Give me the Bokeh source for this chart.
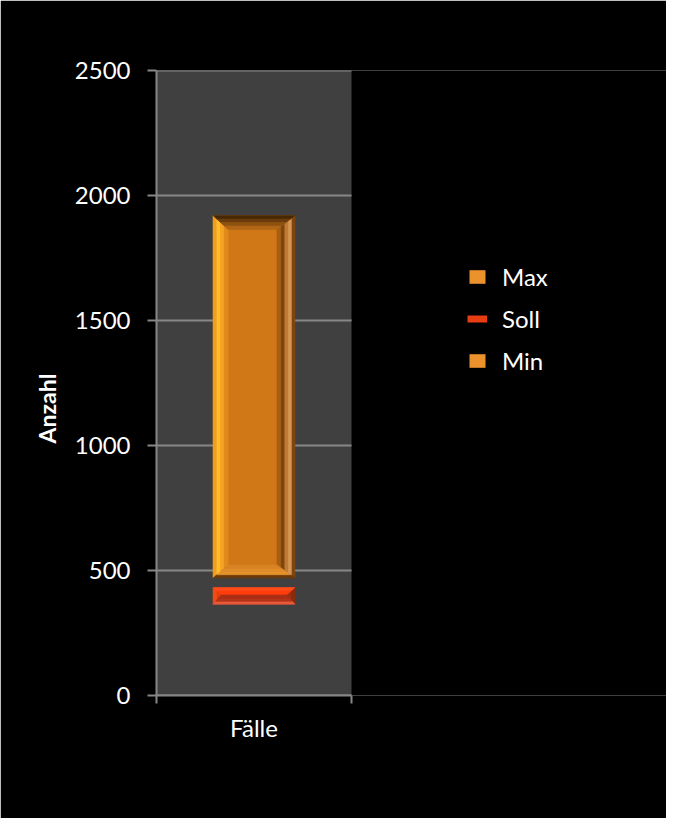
from bokeh.plotting import figure
from bokeh.models import (Range1d, FixedTicker, Legend, LegendItem, Title,
                          LinearAxis)
from bokeh.embed import file_html
from bokeh.resources import INLINE

# ---------------- data ----------------
categories = ["Fälle"]
series_names = ["Max", "Soll", "Min"]
max_values = [1920]
min_values = [470]
soll_low = [365]
soll_high = [432]
y_ticks = [0, 500, 1000, 1500, 2000, 2500]
y_axis_title = "Anzahl"

# ---------------- style ----------------
FONT = "Lato"
FS = "24px"
GRID = "#878787"
PLOT_BG = "#404040"
cat_pos = [0.5]          # centre of the single category on the 0..1 x scale
BAR_W = 0.42
AREA_W = 195             # pixel width of the grey plot area (x = 0..1)
FRAME_W, FRAME_H = 510, 625
PX_X = 1.0 / AREA_W
PX_Y = (y_ticks[-1] - y_ticks[0]) / FRAME_H

p = figure(width=666, height=818, output_backend="svg", toolbar_location=None,
           x_range=Range1d(0, FRAME_W / AREA_W),
           y_range=Range1d(y_ticks[0], y_ticks[-1]),
           min_border_left=156, min_border_right=0, min_border_top=70,
           min_border_bottom=123)
p.background_fill_color = "#000000"
p.border_fill_color = "#000000"
p.outline_line_color = None
p.xgrid.grid_line_color = None
p.ygrid.grid_line_color = None

# grey plot area and its horizontal gridlines
p.quad(left=[0], right=[1], bottom=[y_ticks[0]], top=[y_ticks[-1]],
       fill_color=PLOT_BG, line_color=None)
p.segment(x0=[0] * len(y_ticks), x1=[1] * len(y_ticks), y0=y_ticks, y1=y_ticks,
          line_color=GRID, line_width=2)

# y axis
p.yaxis.ticker = FixedTicker(ticks=y_ticks)
p.yaxis.minor_tick_line_color = None
p.yaxis.major_tick_out = 9
p.yaxis.major_tick_in = 0
p.yaxis.axis_line_color = GRID
p.yaxis.axis_line_width = 2
p.yaxis.major_tick_line_color = GRID
p.yaxis.major_tick_line_width = 2
p.yaxis.major_label_text_color = "#ffffff"
p.yaxis.major_label_text_font = FONT
p.yaxis.major_label_text_font_size = FS
p.yaxis.major_label_standoff = 17

# x axis line with ticks at the plot-area edges
xa = p.xaxis[0]
xa.bounds = (0, 1)
xa.ticker = FixedTicker(ticks=[0, 1])
xa.major_label_overrides = {0: "", 1: ""}
xa.major_label_text_font_size = "1px"
xa.major_label_standoff = 0
xa.minor_tick_line_color = None
xa.major_tick_out = 8
xa.major_tick_in = 0
xa.axis_line_color = GRID
xa.axis_line_width = 2
xa.major_tick_line_color = GRID
xa.major_tick_line_width = 2

# category label axis
xcat = LinearAxis(ticker=FixedTicker(ticks=cat_pos),
                  major_label_overrides={cat_pos[0]: categories[0]},
                  axis_line_color=None, major_tick_line_color=None,
                  minor_tick_line_color=None, major_tick_out=0, major_tick_in=0,
                  major_label_standoff=9, major_label_text_color="#ffffff",
                  major_label_text_font=FONT, major_label_text_font_size=FS)
p.add_layout(xcat, "below")


def bevel(x0, x1, y0, y1, dl, dr, db, dt, side, colors):
    """bands of a bevelled edge, outer -> inner"""
    ix0, ix1, iy0, iy1 = x0 + dl, x1 - dr, y0 + db, y1 - dt
    def R(f):
        return (x0 + (ix0 - x0) * f, x1 + (ix1 - x1) * f,
                y0 + (iy0 - y0) * f, y1 + (iy1 - y1) * f)
    n = len(colors)
    xs, ys = [], []
    for i in range(n):
        a = R(i / n)
        b = R((i + 1) / n)
        if side == "left":
            xs.append([a[0], b[0], b[0], a[0]]); ys.append([a[2], b[2], b[3], a[3]])
        elif side == "right":
            xs.append([a[1], b[1], b[1], a[1]]); ys.append([a[2], b[2], b[3], a[3]])
        elif side == "top":
            xs.append([a[0], a[1], b[1], b[0]]); ys.append([a[3], a[3], b[3], b[3]])
        else:
            xs.append([a[0], a[1], b[1], b[0]]); ys.append([a[2], a[2], b[2], b[2]])
    return xs, ys


def draw_bevel_bar(xc, bottom, top, face, depth_px, side_colors):
    x0, x1 = xc - BAR_W / 2, xc + BAR_W / 2
    dl, dr, db, dt = depth_px
    dl *= PX_X; dr *= PX_X; db *= PX_Y; dt *= PX_Y
    p.quad(left=[x0], right=[x1], bottom=[bottom], top=[top],
           fill_color=face, line_color=None)
    for side in ["left", "right", "top", "bottom"]:
        cols = side_colors[side]
        xs, ys = bevel(x0, x1, bottom, top, dl, dr, db, dt, side, cols)
        p.patches(xs=xs, ys=ys, fill_color=cols, line_color=cols, line_width=0.6)


# legend stand-in renderers (covered by the bevelled bars drawn afterwards)
max_leg = p.vbar(x=cat_pos, width=BAR_W, bottom=min_values, top=max_values,
                 fill_color="#ec922c", line_color=None)
soll_mid = [(a + b) / 2 for a, b in zip(soll_low, soll_high)]
soll_leg = p.segment(x0=cat_pos, x1=cat_pos, y0=soll_mid, y1=soll_mid,
                     line_color="#e83c12", line_width=7)

# Max / Min range bar
for xc, lo, hi in zip(cat_pos, min_values, max_values):
    draw_bevel_bar(xc, lo, hi, "#d07818", (15, 18, 13, 14), {
        "left": ["#f49c1e", "#ffbd2c", "#f4a422", "#e08a1c"],
        "right": ["#7a4512", "#d99450", "#c07a36", "#7c4610", "#a85e14"],
        "top": ["#462706", "#6a3c0c", "#8e5210", "#b06616"],
        "bottom": ["#6a3a0a", "#e4922e", "#e08c2a", "#d88424"],
    })

# Soll bar
for xc, lo, hi in zip(cat_pos, soll_low, soll_high):
    draw_bevel_bar(xc, lo, hi, "#b83a1a", (8, 8, 9, 7), {
        "left": ["#f24c16", "#e4400e"],
        "right": ["#8a2a0e", "#9c300e"],
        "top": ["#ff4a1a", "#ff3c0a"],
        "bottom": ["#e85a3a", "#b43418", "#a82e14"],
    })

# y axis title, in the left panel, shifted below the frame centre
p.add_layout(Title(text=y_axis_title, align="left", offset=252, standoff=21,
                   text_color="#ffffff", text_font=FONT,
                   text_font_size="23px", text_font_style="bold"), "left")

legend = Legend(items=[LegendItem(label=series_names[0], renderers=[max_leg]),
                       LegendItem(label=series_names[1], renderers=[soll_leg]),
                       LegendItem(label=series_names[2], renderers=[max_leg])],
                location=(311, 320), glyph_width=20, glyph_height=17,
                label_standoff=15, label_text_color="#ffffff", label_text_font=FONT,
                label_text_font_size=FS, label_height=17,
                padding=0, margin=0, spacing=13,
                border_line_color=None, background_fill_alpha=0)
p.add_layout(legend, "center")

html = file_html(p, INLINE)
html = html.replace("<body>", '<body style="background-color:#000000;">', 1)
open("out.html", "w").write(html)
